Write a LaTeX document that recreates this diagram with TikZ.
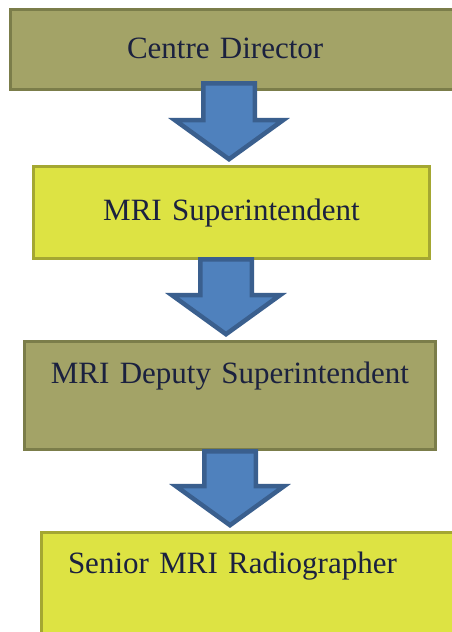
\documentclass[tikz,border=0pt]{standalone}
\usepackage{fontspec}
\setmainfont{Liberation Serif}
\usetikzlibrary{calc}

\definecolor{olivefill}{HTML}{A3A367}
\definecolor{oliveline}{HTML}{7B7D4A}
\definecolor{limefill}{HTML}{DDE343}
\definecolor{limeline}{HTML}{A4A732}
\definecolor{arrowfill}{HTML}{4F81BD}
\definecolor{arrowline}{HTML}{3A5F8E}
\definecolor{navytext}{HTML}{1B213F}

\tikzset{
  rolebox/.style={draw, line width=3pt, outer sep=0pt, anchor=north west,
    inner ysep=0pt, text height=22pt, text=navytext,
    font=\fontsize{31}{37}\selectfont},
  olivebox/.style={rolebox, fill=olivefill, draw=oliveline},
  limebox/.style={rolebox, fill=limefill, draw=limeline},
  blockarrow/.style={draw=arrowline, fill=arrowfill, line width=4.5pt, line join=miter,
    to path={let \p1=(\tikztostart), \p2=(\tikztotarget) in
      (\x1-25.75pt,\y1) -- (\x1+25.75pt,\y1) -- (\x1+25.75pt,\y2+39pt)
      -- (\x1+54pt,\y2+39pt) -- (\x2,\y2) -- (\x1-54pt,\y2+39pt)
      -- (\x1-25.75pt,\y2+39pt) -- cycle}}
}

\begin{document}
\begin{tikzpicture}[x=1pt,y=-1pt]
    \fill[white] (0,0) rectangle (451,632);
    \useasboundingbox (0,0) rectangle (451,632);
    \node[olivebox, text width=226.5pt, inner xsep=116.5pt, align=left,
      minimum height=80pt, text depth=5pt] (director) at (10.5,9.5) {Centre Director};
    \node[limebox, text width=376pt, inner xsep=10pt, align=center,
      minimum height=92pt, text depth=7pt] (super) at (33.5,166.5) {MRI Superintendent};
    \node[olivebox, text width=391pt, inner xsep=10pt, align=center,
      minimum height=108pt, text depth=47pt] (deputy) at (24.5,341.5) {MRI Deputy Superintendent};
    \node[limebox, text width=375.5pt, inner xsep=26.5pt, align=left,
      minimum height=117.5pt, text depth=58.5pt] (senior) at (41.5,532.5) {Senior MRI Radiographer};
    \path[blockarrow] ($(director.south)+(-11.25,-6.25)$) to ($(super.north)+(-2.5,-7.3)$);
    \path[blockarrow] ($(super.south)+(-5.5,0.75)$) to ($(deputy.north)+(-4,-7.3)$);
    \path[blockarrow] ($(deputy.south)+(0,1.75)$) to ($(senior.north)+(-25.75,-7.3)$);
\end{tikzpicture}
\end{document}
